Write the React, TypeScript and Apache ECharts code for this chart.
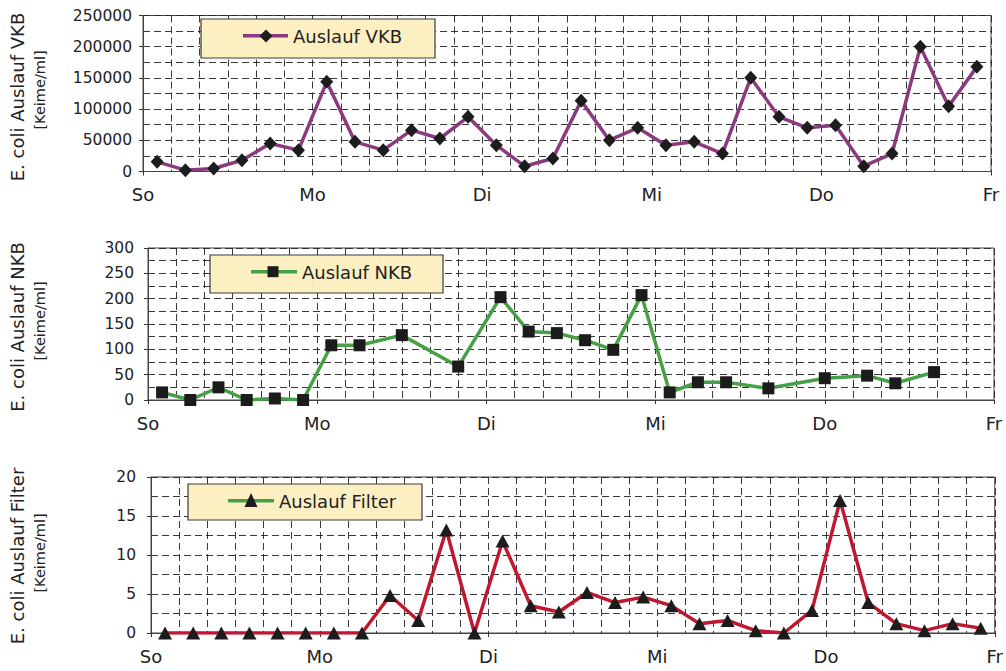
import { useEffect, useRef } from 'react';
import * as echarts from 'echarts';

const DAYS = ['So', 'Mo', 'Di', 'Mi', 'Do', 'Fr'];

const HOURS_VKB = [2, 6, 10, 14, 18, 22, 26, 30, 34, 38, 42, 46, 50, 54, 58, 62, 66, 70, 74, 78, 82, 86, 90, 94, 98, 102, 106, 110, 114, 118];
const VKB = [15500, 2100, 4800, 18000, 44900, 34200, 143700, 47500, 34200, 66200, 52900, 87600, 42200, 8500, 20800, 113200, 50200, 70000, 42200, 47500, 28800, 150100, 87600, 70000, 74300, 8500, 28800, 199800, 104700, 167700];

const HOURS_NKB = [2, 6, 10, 14, 18, 22, 26, 30, 36, 44, 50, 54, 58, 62, 66, 70, 74, 78, 82, 88, 96, 102, 106, 111.5];
const NKB = [15, 0, 25, 0, 3, 0, 108, 108, 128, 66, 203, 135, 132, 118, 99, 207, 15, 35, 35, 23, 43, 48, 33, 55];

const HOURS_FILTER = [2, 6, 10, 14, 18, 22, 26, 30, 34, 38, 42, 46, 50, 54, 58, 62, 66, 70, 74, 78, 82, 86, 90, 94, 98, 102, 106, 110, 114, 118];
const FILTER = [0, 0, 0, 0, 0, 0, 0, 0, 4.8, 1.6, 13.2, 0, 11.8, 3.5, 2.7, 5.2, 3.9, 4.6, 3.5, 1.2, 1.6, 0.3, 0, 2.9, 17, 3.9, 1.2, 0.3, 1.2, 0.6];

const TITLES = ['E. coli Auslauf VKB', 'E. coli Auslauf NKB', 'E. coli Auslauf Filter'];
const UNIT = '[Keime/ml]';
const LEGENDS = ['Auslauf VKB', 'Auslauf NKB', 'Auslauf Filter'];

const FONT = 'DejaVu Sans';
const DASH = [7, 4];
const GRIDLINE = { type: DASH, color: '#222', width: 0.9 };
const INK = '#1c1c1c';

const panels = [
  {
    grid: { left: 143, top: 15.5, width: 848, height: 156 },
    max: 250000, interval: 50000, margin: 11,
    hours: HOURS_VKB, values: VKB, color: '#8c3a80', symbol: 'diamond', symbolSize: [13, 14],
  },
  {
    grid: { left: 148, top: 248, width: 846, height: 152 },
    max: 300, interval: 50, margin: 14,
    hours: HOURS_NKB, values: NKB, color: '#45a046', symbol: 'rect', symbolSize: 12,
  },
  {
    grid: { left: 151, top: 477, width: 845, height: 156 },
    max: 20, interval: 5, margin: 15,
    hours: HOURS_FILTER, values: FILTER, color: '#c0192f', symbol: 'triangle', symbolSize: [14, 13],
  },
];

const titlePos = [
  { t: [17, 97], u: [40, 90] },
  { t: [17, 327], u: [40, 321] },
  { t: [17, 556], u: [40, 553] },
];

const GZ = 100;

function vtext(x: number, y: number, text: string, size: number) {
  return {
    type: 'text', x, y, rotation: Math.PI / 2, z: GZ,
    style: {
      text, fontSize: size, fontFamily: FONT, fill: '#222',
      align: 'center', verticalAlign: 'middle', textAlign: 'center', textVerticalAlign: 'middle',
    },
  };
}

function htext(x: number, y: number, text: string) {
  return {
    type: 'text', x, y, z: GZ + 2,
    style: {
      text, fontSize: 18, fontFamily: FONT, fill: '#222',
      align: 'left', verticalAlign: 'middle', textAlign: 'left', textVerticalAlign: 'middle',
    },
  };
}

function box(x: number, y: number, w: number, h: number) {
  return {
    type: 'rect', z: GZ, shape: { x, y, width: w, height: h },
    style: { fill: '#fcf0c3', stroke: '#3a3a3a', lineWidth: 1.2 },
  };
}

function legendLine(x1: number, x2: number, y: number, color: string) {
  return { type: 'line', z: GZ + 1, shape: { x1, y1: y, x2, y2: y }, style: { stroke: color, lineWidth: 3.5 } };
}

export default function App() {
  const ref = useRef<HTMLDivElement>(null);
  useEffect(() => {
    const chart = echarts.init(ref.current!, null, { renderer: 'svg' });

    const grids = panels.map((p) => ({
      ...p.grid, show: true, borderColor: '#444', borderWidth: 1, backgroundColor: 'transparent',
    }));

    const xAxes = panels.map((p, i) => ({
      type: 'value', gridIndex: i, min: 0, max: 120, interval: 24,
      axisLine: { show: true, onZero: false, lineStyle: { color: '#444', width: 1 } },
      axisTick: { show: true, inside: false, length: 4, lineStyle: { color: '#333' } },
      axisLabel: {
        fontSize: 18, fontFamily: FONT, color: '#222', margin: 14,
        formatter: (v: number) => (v % 24 === 0 ? DAYS[Math.round(v / 24)] : ''),
      },
      splitLine: { show: true, lineStyle: GRIDLINE },
      minorTick: { show: false, splitNumber: 6 },
      minorSplitLine: { show: true, lineStyle: GRIDLINE },
    }));

    const yAxes = panels.map((p, i) => ({
      type: 'value', gridIndex: i, min: 0, max: p.max, interval: p.interval,
      axisLine: { show: true, lineStyle: { color: '#444', width: 1 } },
      axisTick: { show: true, inside: false, length: 4, lineStyle: { color: '#333' } },
      axisLabel: {
        fontSize: 15.5, fontFamily: FONT, color: '#222', margin: p.margin,
        formatter: (v: number) => String(v),
      },
      splitLine: { show: true, lineStyle: GRIDLINE },
      minorTick: { show: false, splitNumber: 2 },
      minorSplitLine: { show: true, lineStyle: GRIDLINE },
    }));

    const series = panels.map((p, i) => ({
      type: 'line', xAxisIndex: i, yAxisIndex: i,
      data: p.hours.map((h, k) => [h, p.values[k]]),
      symbol: p.symbol, symbolSize: p.symbolSize, showSymbol: true,
      lineStyle: { color: p.color, width: 3.5 },
      itemStyle: { color: INK },
      z: 5,
    }));

    const graphics: any[] = [];
    titlePos.forEach((tp, i) => {
      graphics.push(vtext(tp.t[0], tp.t[1], TITLES[i], 18));
      graphics.push(vtext(tp.u[0], tp.u[1], UNIT, 14.5));
    });

    // Legend 1 (VKB)
    graphics.push(box(201, 19, 234, 39));
    graphics.push(legendLine(243, 288, 35.7, panels[0].color));
    graphics.push({
      type: 'polygon', z: GZ + 2,
      shape: { points: [[266, 29.5], [272.5, 36], [266, 42.5], [259.5, 36]] },
      style: { fill: INK },
    });
    graphics.push(htext(293, 36.5, LEGENDS[0]));

    // Legend 2 (NKB)
    graphics.push(box(210, 255, 233, 38));
    graphics.push(legendLine(251, 297, 271.7, panels[1].color));
    graphics.push({ type: 'rect', z: GZ + 2, shape: { x: 267.5, y: 266.2, width: 11, height: 11 }, style: { fill: INK } });
    graphics.push(htext(302, 272.5, LEGENDS[1]));

    // Legend 3 (Filter) - legend line drawn green as in the original
    graphics.push(box(188, 484, 234, 36));
    graphics.push(legendLine(228, 274, 500.7, '#45a046'));
    graphics.push({
      type: 'polygon', z: GZ + 2,
      shape: { points: [[251, 493], [257.5, 507], [244.5, 507]] },
      style: { fill: INK },
    });
    graphics.push(htext(279, 501.5, LEGENDS[2]));

    chart.setOption({
      animation: false,
      backgroundColor: '#fff',
      grid: grids,
      xAxis: xAxes,
      yAxis: yAxes,
      series,
      graphic: { elements: graphics },
    });
    return () => chart.dispose();
  }, []);
  return (
    <div
      ref={ref}
      style={{ position: 'fixed', left: 0, top: 0, width: 1006, height: 671, background: '#fff' }}
    />
  );
}
